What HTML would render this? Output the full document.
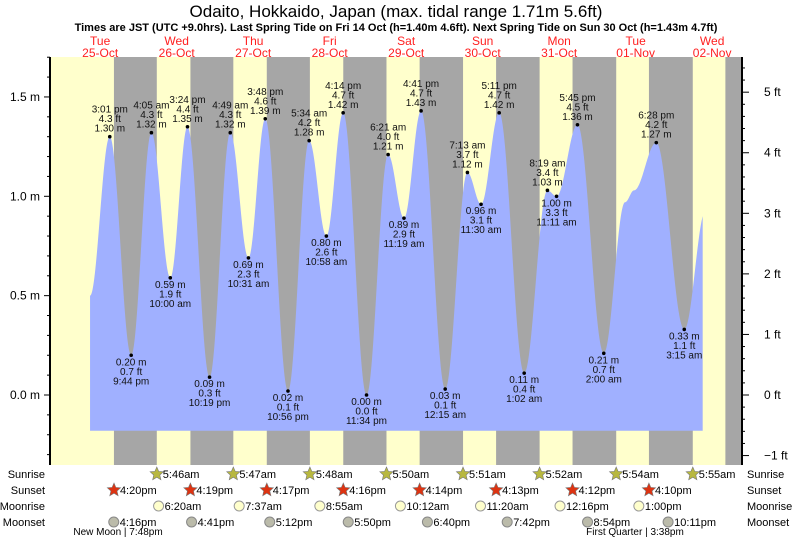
<!DOCTYPE html>
<html><head><meta charset="utf-8">
<style>
body{margin:0;background:#fff;}
svg{display:block;font-family:"Liberation Sans",sans-serif;}
</style></head>
<body>
<svg id="chart" width="793" height="539" viewBox="0 0 793 539">
<text x="396" y="17" font-size="17" text-anchor="middle">Odaito, Hokkaido, Japan (max. tidal range 1.71m 5.6ft)</text>
<text x="396" y="31" font-size="11" font-weight="bold" text-anchor="middle">Times are JST (UTC +9.0hrs). Last Spring Tide on Fri 14 Oct (h=1.40m 4.6ft). Next Spring Tide on Sun 30 Oct (h=1.43m 4.7ft)</text>
<g id="bg"></g>
<g id="tide"></g>
<g id="axes"></g>
<g id="labels"></g>
<g id="rows"></g>
</svg>
<script>
// ---- data ----
const dayNames = ["Tue","Wed","Thu","Fri","Sat","Sun","Mon","Tue","Wed"];
const dayDates = ["25-Oct","26-Oct","27-Oct","28-Oct","29-Oct","30-Oct","31-Oct","01-Nov","02-Nov"];
// tide events: hours since 25-Oct 00:00, height m, label time
const tideHours = [15.02, 21.73, 28.08, 34.0, 39.4, 46.32, 52.82, 58.52, 63.8, 70.93, 77.57, 82.97, 88.23, 95.57, 102.35, 107.32, 112.68, 120.25, 127.22, 131.5, 137.18, 145.03, 152.32, 155.18, 161.75, 170.0, 186.47, 195.25];
const tideHeights = [1.30, 0.20, 1.32, 0.59, 1.35, 0.09, 1.32, 0.69, 1.39, 0.02, 1.28, 0.80, 1.42, 0.00, 1.21, 0.89, 1.43, 0.03, 1.12, 0.96, 1.42, 0.11, 1.03, 1.00, 1.36, 0.21, 1.27, 0.33];
const tideTimes = ["3:01 pm","9:44 pm","4:05 am","10:00 am","3:24 pm","10:19 pm","4:49 am","10:31 am","3:48 pm","10:56 pm","5:34 am","10:58 am","4:14 pm","11:34 pm","6:21 am","11:19 am","4:41 pm","12:15 am","7:13 am","11:30 am","5:11 pm","1:02 am","8:19 am","11:11 am","5:45 pm","2:00 am","6:28 pm","3:15 am"];
// unlabeled curve shape points (start, shoulder, end)
const extraHours = [8.83, 176.67, 179.5, 202.0];
const extraHeights = [0.50, 0.97, 1.03, 0.93];
const curveStart = 8.83, curveEnd = 201.03;
const sunsetHours = [16.33, 40.32, 64.28, 88.27, 112.23, 136.22, 160.2, 184.17, 208.15];
const sunriseHours = [29.77, 53.78, 77.8, 101.83, 125.85, 149.87, 173.9, 197.92];
const sunriseLabels = ["5:46am","5:47am","5:48am","5:50am","5:51am","5:52am","5:54am","5:55am"];
const sunsetLabels = ["4:20pm","4:19pm","4:17pm","4:16pm","4:14pm","4:13pm","4:12pm","4:10pm"];
const moonriseHours = [30.33, 55.62, 80.92, 106.2, 131.33, 156.27, 181.0];
const moonriseLabels = ["6:20am","7:37am","8:55am","10:12am","11:20am","12:16pm","1:00pm"];
const moonsetHours = [16.27, 40.68, 65.2, 89.83, 114.67, 139.7, 164.9, 190.18];
const moonsetLabels = ["4:16pm","4:41pm","5:12pm","5:50pm","6:40pm","7:42pm","8:54pm","10:11pm"];
const leftTicks = [0.0, 0.5, 1.0, 1.5];
const rightTicks = [-1,0,1,2,3,4,5];

// ---- scales ----
const L=50, R=742, T=57, B=465;
const X = h => 61.9 + h/24*76.5;
const Y = m => 395 - m*198.7;
const NS="http://www.w3.org/2000/svg";
function mk(tag, attrs, parent, txt){const e=document.createElementNS(NS,tag);for(const k in attrs)e.setAttribute(k,attrs[k]);if(txt!==undefined)e.textContent=txt;parent.appendChild(e);return e;}
const bg=document.getElementById('bg'), tide=document.getElementById('tide'), axes=document.getElementById('axes'), labels=document.getElementById('labels'), rows=document.getElementById('rows');

// background
let r=mk('rect',{x:L,y:T,width:R-L,height:B-T,fill:'#ffffcc'},bg);


for(let i=0;i<sunsetHours.length;i++){
  const x1=Math.max(L,X(sunsetHours[i])), x2=Math.min(R,i<sunriseHours.length?X(sunriseHours[i]):R);
  if(x2>x1){const n=mk('rect',{x:x1,y:T,width:x2-x1,height:B-T,fill:'#a6a6a6'},bg);
  
  }
}
// day labels
for(let i=0;i<dayNames.length;i++){
  const cx=X(i*24+12);
  const t1=mk('text',{x:cx,y:45,'font-size':12,fill:'#ff2020','text-anchor':'middle'},bg,dayNames[i]);
  
  
  const t2=mk('text',{x:cx,y:57,'font-size':12,fill:'#ff2020','text-anchor':'middle'},bg,dayDates[i]);
  
  
}

// tide curve
const pts=[];
for(let i=0;i<tideHours.length;i++)pts.push([tideHours[i],tideHeights[i]]);
for(let i=0;i<extraHours.length;i++)pts.push([extraHours[i],extraHeights[i]]);
pts.sort((a,b)=>a[0]-b[0]);
function h(t){
  for(let i=0;i<pts.length-1;i++){
    if(t>=pts[i][0]&&t<=pts[i+1][0]){
      const f=(t-pts[i][0])/(pts[i+1][0]-pts[i][0]);
      return pts[i][1]+(pts[i+1][1]-pts[i][1])*(1-Math.cos(Math.PI*f))/2;
    }}
  return pts[pts.length-1][1];
}
const bot=Y(-0.18);
let d=`M${X(curveStart)},${bot}`;
for(let t=curveStart;t<=curveEnd;t+=0.1)d+=` L${X(t).toFixed(2)},${Y(h(t)).toFixed(2)}`;
d+=` L${X(curveEnd)},${Y(h(curveEnd))} L${X(curveEnd)},${bot} Z`;
const area=mk('path',{d:d,fill:'#a0b0ff'},tide);



// event labels
for(let i=0;i<tideHours.length;i++){
  const x=X(tideHours[i]), y=Y(tideHeights[i]);
  const high = i===0 ? true : tideHeights[i]>tideHeights[i-1];
  const dot=mk('circle',{cx:x,cy:y,r:1.8,fill:'#000'},labels);
  
  
  const ft=(tideHeights[i]/0.3048).toFixed(1)+' ft', m=tideHeights[i].toFixed(2)+' m';
  const lines = high ? [tideTimes[i],ft,m] : [m,ft,tideTimes[i]];
  const y0 = high ? y-24 : y+10;
  lines.forEach((s,k)=>{
    const t=mk('text',{x:x,y:y0+k*9.5,'font-size':10,'text-anchor':'middle',fill:'#111'},labels,s);
    
    
  });
}

// axes
let ax=mk('line',{x1:L,y1:T,x2:L,y2:B,stroke:'#000','stroke-width':2},axes);


ax=mk('line',{x1:R,y1:T,x2:R,y2:B,stroke:'#000','stroke-width':2},axes);


for(let v=-0.3;v<=1.81;v+=0.1){
  const y=Y(v); if(y<T||y>B)continue;
  const major=Math.abs(v*2-Math.round(v*2))<0.01;
  mk('line',{x1:L-(major?6:3),y1:y,x2:L,y2:y,stroke:'#000'},axes);
}
leftTicks.forEach(v=>{
  const t=mk('text',{x:L-10,y:Y(v)+4,'font-size':12,'text-anchor':'end'},axes,v.toFixed(1)+' m');
  
  
});
for(let f=-1.6;f<=5.9;f+=0.2){
  const y=Y(f*0.3048); if(y<T||y>B)continue;
  const major=Math.abs(f-Math.round(f))<0.01;
  mk('line',{x1:R,y1:y,x2:R+(major?7:3),y2:y,stroke:'#000'},axes);
}
rightTicks.forEach(f=>{
  const t=mk('text',{x:R+22,y:Y(f*0.3048)+4,'font-size':12},axes,(f<0?'\u2212'+(-f):f)+' ft');
  
  
});

// bottom rows
const rowY=[478,494,510,526];
const rowNames=["Sunrise","Sunset","Moonrise","Moonset"];
rowNames.forEach((n,i)=>{
  const a=mk('text',{x:45,y:rowY[i],'font-size':11,'text-anchor':'end'},rows,n);
  
  
  const b=mk('text',{x:747,y:rowY[i],'font-size':11},rows,n);
  
  
});
function star(cx,cy,fill){
  let p='';for(let k=0;k<10;k++){const a=-Math.PI/2+k*Math.PI/5, rr=k%2?3.2:7;p+=(cx+rr*Math.cos(a)).toFixed(1)+','+(cy+rr*Math.sin(a)).toFixed(1)+' ';}
  return mk('polygon',{points:p,fill:fill,stroke:'#777','stroke-width':0.6},rows);
}
sunriseHours.forEach((hh,i)=>{
  const x=X(hh);
  const s=star(x,rowY[0]-4,'#b8b840');
  
  
  const t=mk('text',{x:x+6,y:rowY[0],'font-size':11},rows,sunriseLabels[i]);
  
  
});
sunsetLabels.forEach((lab,i)=>{
  const x=X(sunsetHours[i]);
  const s=star(x,rowY[1]-4,'#dd3311');
  
  
  const t=mk('text',{x:x+6,y:rowY[1],'font-size':11},rows,lab);
  
  
});
moonriseHours.forEach((hh,i)=>{
  const x=X(hh);
  const c=mk('circle',{cx:x,cy:rowY[2]-4,r:5,fill:'#ffffcc',stroke:'#999'},rows);
  
  
  const t=mk('text',{x:x+6,y:rowY[2],'font-size':11},rows,moonriseLabels[i]);
  
  
});
moonsetHours.forEach((hh,i)=>{
  const x=X(hh);
  const c=mk('circle',{cx:x,cy:rowY[3]-4,r:5,fill:'#bbbbaa',stroke:'#888'},rows);
  
  
  const t=mk('text',{x:x+6,y:rowY[3],'font-size':11},rows,moonsetLabels[i]);
  
  
});
let ph=mk('text',{x:118,y:535,'font-size':10,'text-anchor':'middle'},rows,'New Moon | 7:48pm');


ph=mk('text',{x:635,y:535,'font-size':10,'text-anchor':'middle'},rows,'First Quarter | 3:38pm');


</script>
</body></html>
